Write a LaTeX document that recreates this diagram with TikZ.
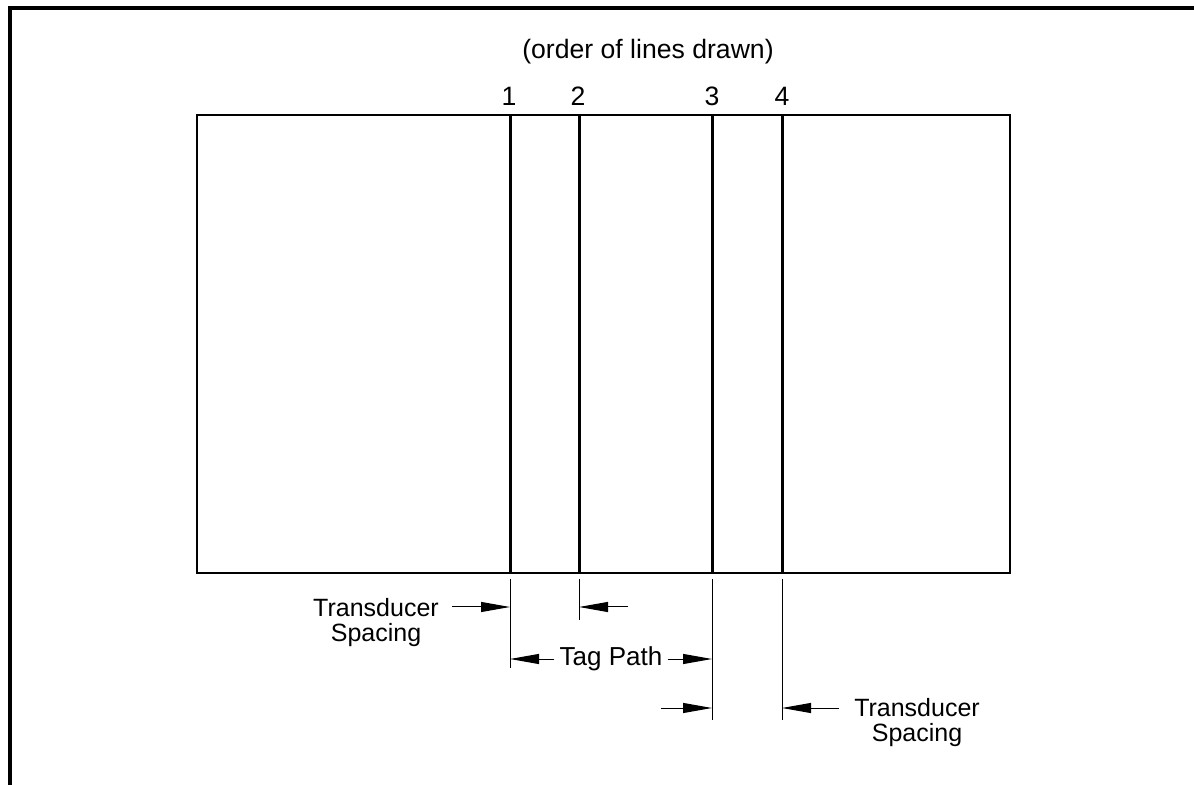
\documentclass[tikz,border=0pt]{standalone}
\usepackage{fontspec}
\setmainfont{Liberation Sans}
\usetikzlibrary{arrows.meta, calc, positioning}
\newcommand{\labelsize}{\fontsize{12.5}{12.5}\selectfont}
\newcommand{\titlesize}{\fontsize{13.3}{13.3}\selectfont}

\begin{document}
\begin{tikzpicture}[x=0.5pt,y=-0.5pt,
    frame/.style={line width=2pt},
    chart/.style={line width=1pt},
    cut/.style={line width=1.5pt},
    ext/.style={line width=0.5pt},
    dim/.style={line width=0.5pt,-{Triangle[length=14.5pt,width=5pt]}},
    every node/.style={font=\labelsize,inner sep=0pt}]
            \useasboundingbox (0,0) rectangle (1194,785);

            % outer frame
            \coordinate (F_bl) at (10,785);
            \coordinate (F_tl) at (10,8);
            \coordinate (F_tr) at (1194,8);
            \draw [frame] (F_bl) -- (F_tl) -- (F_tr);

            % chart
            \coordinate (C_tl) at (197,115);
            \coordinate (C_br) at (1010,573);
            \draw [chart] (C_tl) rectangle (C_br);

            \node[font=\titlesize] (title) at (648,52) {(order of lines drawn)};

            \node[anchor=base,font=\titlesize] (n_1) at (509,106) {1};
            \node[anchor=base,font=\titlesize] (n_2) at (578,106) {2};
            \node[anchor=base,font=\titlesize] (n_3) at (712,106) {3};
            \node[anchor=base,font=\titlesize] (n_4) at (782,106) {4};

            % lines drawn
            \coordinate (L_1t) at (510,115);
            \coordinate (L_1b) at (510,573);
            \coordinate (L_2t) at (579,115);
            \coordinate (L_2b) at (579,573);
            \coordinate (L_3t) at (712,115);
            \coordinate (L_3b) at (712,573);
            \coordinate (L_4t) at (782,115);
            \coordinate (L_4b) at (782,573);

            \draw [cut] (L_1t) -- (L_1b);
            \draw [cut] (L_2t) -- (L_2b);
            \draw [cut] (L_3t) -- (L_3b);
            \draw [cut] (L_4t) -- (L_4b);

            % extension lines
            \coordinate (E_1) at (510,668);
            \coordinate (E_2) at (579,620);
            \coordinate (E_3) at (712,720);
            \coordinate (E_4) at (782,720);

            \draw [ext] ($(L_1b)+(0,6)$) -- (E_1);
            \draw [ext] ($(L_2b)+(0,6)$) -- (E_2);
            \draw [ext] ($(L_3b)+(0,6)$) -- (E_3);
            \draw [ext] ($(L_4b)+(0,6)$) -- (E_4);

            % transducer spacing, left
            \node[align=center] (ts_1) at (376,623) {Transducer\\Spacing};
            \coordinate (a_1) at (452,607);
            \coordinate (a_1e) at (510,607);
            \coordinate (a_2) at (628,607);
            \coordinate (a_2e) at (579,607);
            \draw [dim] (a_1) -- (a_1e);
            \draw [dim] (a_2) -- (a_2e);

            % tag path
            \node[font=\fontsize{13}{13}\selectfont] (tag) at (611,659) {Tag Path};
            \coordinate (t_1e) at (510,659);
            \coordinate (t_2e) at (712,659);
            \draw [dim] ($(tag.west)+(-5,0)$) -- (t_1e);
            \draw [dim] ($(tag.east)+(5,0)$) -- (t_2e);

            % transducer spacing, right
            \node[align=center] (ts_2) at (917,723) {Transducer\\Spacing};
            \coordinate (b_1) at (661,708);
            \coordinate (b_1e) at (712,708);
            \coordinate (b_2) at (839,708);
            \coordinate (b_2e) at (782,708);
            \draw [dim] (b_1) -- (b_1e);
            \draw [dim] (b_2) -- (b_2e);
        \end{tikzpicture}
\end{document}
